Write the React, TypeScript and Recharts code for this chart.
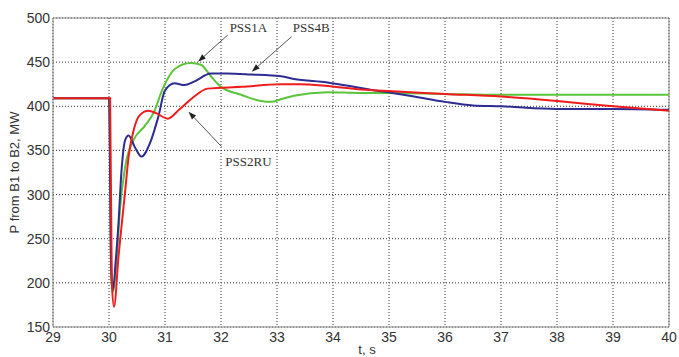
import { CartesianGrid, Line, LineChart, ReferenceDot, ReferenceLine, XAxis, YAxis } from "recharts";

const xTicks = [29, 30, 31, 32, 33, 34, 35, 36, 37, 38, 39, 40];
const yTicks = [150, 200, 250, 300, 350, 400, 450, 500];

const blueT = [29, 30, 30.04, 30.07, 30.12, 30.17, 30.22, 30.29, 30.35, 30.46, 30.58, 30.73, 30.88, 31.0, 31.17, 31.35, 31.52, 31.82, 32.1, 32.53, 33.07, 33.3, 33.9, 34.3, 34.65, 35.06, 35.45, 36, 36.5, 37, 38, 39, 40];
const blueP = [409, 409, 215, 192, 225, 268, 324, 362, 367, 354, 343, 358, 388, 418, 426, 424, 428, 437, 437, 436, 434, 431, 427, 423, 419, 415, 411, 405, 401, 400, 397, 397, 396];

const greenT = [29, 30, 30.04, 30.07, 30.14, 30.2, 30.29, 30.44, 30.63, 30.8, 30.96, 31.17, 31.46, 31.64, 31.82, 32.0, 32.36, 32.71, 32.9, 33.07, 33.3, 33.9, 34.5, 35.06, 36, 37, 38, 39, 40];
const greenP = [409, 409, 205, 190, 230, 286, 332, 362, 377, 393, 420, 442, 449, 447, 434, 422, 413, 406, 405, 408, 412, 416, 415, 415, 414, 413, 413, 413, 413];

const redT = [29, 30.02, 30.05, 30.09, 30.17, 30.23, 30.29, 30.35, 30.44, 30.55, 30.7, 30.85, 31.05, 31.25, 31.5, 31.76, 32.36, 33.07, 33.4, 33.9, 34.5, 35.06, 36, 37, 38, 39, 40];
const redP = [409, 409, 200, 173, 230, 268, 305, 343, 373, 390, 395, 392, 386, 396, 410, 420, 422, 425, 425, 423, 419, 417, 414, 411, 406, 400, 395];

const blueData = blueT.map((t, i) => ({ t, p: blueP[i] }));
const greenData = greenT.map((t, i) => ({ t, p: greenP[i] }));
const redData = redT.map((t, i) => ({ t, p: redP[i] }));

// arrow from tail (x1,y1) to head (x2,y2)
const Arrow = (props: any) => {
    const { x1, y1, x2, y2 } = props;
    const a = Math.atan2(y2 - y1, x2 - x1);
    const len = 8;
    const w = 2.8;
    const bx = x2 - len * Math.cos(a);
    const by = y2 - len * Math.sin(a);
    const px = -Math.sin(a) * w;
    const py = Math.cos(a) * w;
    return (
        <g>
            <line x1={x1} y1={y1} x2={bx} y2={by} stroke="#555" strokeWidth={1} />
            <polygon points={`${x2},${y2} ${bx + px},${by + py} ${bx - px},${by - py}`} fill="#222" />
        </g>
    );
};

const Tag = (text: string) => (props: any) => (
    <text x={props.cx} y={props.cy} textAnchor="middle" dominantBaseline="central" fontFamily="Liberation Serif" fontSize={13} fill="#333">
        {text}
    </text>
);

const YLabel = (props: any) => {
    const vb = props.viewBox;
    const cy = vb.y + vb.height / 2;
    return (
        <text x={14} y={cy} transform={`rotate(-90, 14, ${cy})`} textAnchor="middle" dominantBaseline="central" fontFamily="Liberation Sans" fontSize={13} fill="#333">
            P from B1 to B2, MW
        </text>
    );
};

const XLabel = () => (
    <text x={367} y={354} textAnchor="middle" fontFamily="Liberation Sans" fontSize={13} fill="#333">
        t, s
    </text>
);

export default function App() {
    const tickStyle = { fontFamily: "Liberation Sans", fontSize: 14, fill: "#333" };
    return (
        <div style={{ position: "absolute", left: 0, top: 0, background: "#fff" }}>
            <LineChart width={679} height={357} margin={{ top: 18, right: 10, left: 0, bottom: 0 }}>
                <CartesianGrid stroke="#333" strokeDasharray="1 2" horizontalValues={yTicks} verticalValues={xTicks} />
                <XAxis
                    type="number"
                    dataKey="t"
                    domain={[29, 40]}
                    ticks={xTicks}
                    allowDataOverflow
                    height={30}
                    tickLine={false}
                    tickSize={4}
                    tickMargin={1}
                    axisLine={{ stroke: "#888" }}
                    tick={tickStyle}
                    interval={0}
                    label={<XLabel />}
                />
                <YAxis
                    type="number"
                    dataKey="p"
                    domain={[150, 500]}
                    ticks={yTicks}
                    allowDataOverflow
                    width={53}
                    tickLine={false}
                    tickSize={2}
                    tickMargin={1}
                    axisLine={{ stroke: "#888" }}
                    tick={tickStyle}
                    interval={0}
                    label={<YLabel />}
                />
                <ReferenceLine y={500} stroke="#888" />
                <ReferenceLine x={40} stroke="#888" />
                <Line data={greenData} dataKey="p" type="monotone" stroke="#5cc43c" strokeWidth={2} dot={false} activeDot={false} isAnimationActive={false} />
                <Line data={blueData} dataKey="p" type="monotone" stroke="#2c2c92" strokeWidth={2} dot={false} activeDot={false} isAnimationActive={false} />
                <Line data={redData} dataKey="p" type="monotone" stroke="#f01c1c" strokeWidth={2} dot={false} activeDot={false} isAnimationActive={false} />
                <ReferenceLine segment={[{ x: 32.12, y: 480.7 }, { x: 31.59, y: 450.5 }]} shape={Arrow} />
                <ReferenceLine segment={[{ x: 33.26, y: 478.8 }, { x: 32.55, y: 439.2 }]} shape={Arrow} />
                <ReferenceLine segment={[{ x: 32.01, y: 354.3 }, { x: 31.42, y: 393.9 }]} shape={Arrow} />
                <ReferenceDot x={32.49} y={488.7} r={0} shape={Tag("PSS1A")} />
                <ReferenceDot x={33.61} y={488.7} r={0} shape={Tag("PSS4B")} />
                <ReferenceDot x={32.49} y={337.5} r={0} shape={Tag("PSS2RU")} />
            </LineChart>
        </div>
    );
}
